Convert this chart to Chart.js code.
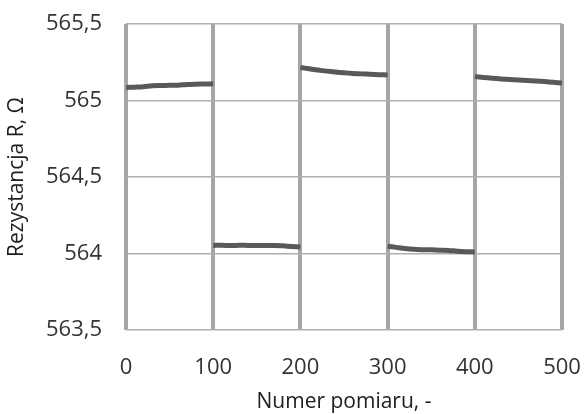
<!DOCTYPE html>
<html>
<head>
<meta charset="utf-8">
<script src="https://cdn.jsdelivr.net/npm/chart.js@4"></script>
<style>
  html, body { margin: 0; padding: 0; background: #fff; }
  #wrap { width: 584px; height: 414px; }
</style>
</head>
<body>
<div id="wrap"><canvas id="chartR"></canvas></div>
<script>
// Rezystancja vs numer pomiaru

const segStart = [0, 100, 200, 300, 400];
const offsets = [0, 10, 20, 30, 40, 50, 60, 70, 80, 90, 100];

const r1 = [565.085, 565.087, 565.090, 565.097, 565.098, 565.099, 565.100, 565.105, 565.107, 565.108, 565.109];
const r2 = [564.053, 564.054, 564.052, 564.054, 564.053, 564.053, 564.052, 564.053, 564.050, 564.046, 564.042];
const r3 = [565.216, 565.207, 565.199, 565.192, 565.186, 565.181, 565.177, 565.174, 565.171, 565.169, 565.167];
const r4 = [564.048, 564.040, 564.032, 564.027, 564.025, 564.024, 564.022, 564.020, 564.015, 564.012, 564.010];
const r5 = [565.156, 565.151, 565.146, 565.141, 565.137, 565.134, 565.131, 565.128, 565.124, 565.119, 565.114];
const series = [r1, r2, r3, r4, r5];

const xTicks = [0, 100, 200, 300, 400, 500];
const yTicks = [563.5, 564, 564.5, 565, 565.5];

const datasets = series.map(function(vals, i) {
    return {
        data: vals.map(function(v, j) { return { x: segStart[i] + offsets[j], y: v }; }),
        borderColor: "#595959",
        borderWidth: 5,
        pointRadius: 0,
        tension: 0.3,
        fill: false,
    };
});

const fontCfg = { family: "'Open Sans', sans-serif", size: 22 };
const xTitleFont = { family: "'Open Sans', sans-serif", size: 21, lineHeight: 1.0 };
const yTitleFont = { family: "'Open Sans', sans-serif", size: 21 };

const configChart = {
    type: "line",
    data: { datasets: datasets },
    options: {
        responsive: true,
        maintainAspectRatio: false,
        animation: false,
        layout: { padding: { top: 24, right: 22, left: 0, bottom: 0 } },
        plugins: { legend: { display: false }, tooltip: { enabled: false } },
        scales: {
            x: {
                type: "linear",
                min: 0,
                max: 500,
                afterBuildTicks: function(axis) { axis.ticks = xTicks.map(function(v) { return { value: v }; }); },
                afterFit: function(axis) {
                    axis.height = 84;
                    axis.paddingLeft = 0;
                    axis.paddingRight = 0;
                },
                ticks: { color: "#333333", font: fontCfg, padding: 25, maxRotation: 0 },
                grid: { color: "#a6a6a6", lineWidth: 4, drawTicks: false },
                border: { display: false },
                title: { display: true, text: "Numer pomiaru, -", color: "#202020", font: xTitleFont, padding: { top: 2, bottom: 1 } },
            },
            y: {
                min: 563.5,
                max: 565.5,
                afterBuildTicks: function(axis) { axis.ticks = yTicks.map(function(v) { return { value: v }; }); },
                afterFit: function(axis) {
                    axis.width = 126;
                    axis.paddingTop = 0;
                    axis.paddingBottom = 0;
                },
                ticks: {
                    color: "#333333",
                    font: fontCfg,
                    padding: 24,
                    callback: function(v) { return String(v).replace(".", ","); },
                },
                grid: { color: "#b0b0b0", lineWidth: 1.5, drawTicks: false },
                border: { display: false },
                title: { display: true, text: "Rezystancja R, Ω", color: "#202020", font: yTitleFont, padding: { bottom: 4 } },
            },
        },
    },
};

var chartR = new Chart(document.getElementById("chartR"), configChart);
</script>
</body>
</html>
